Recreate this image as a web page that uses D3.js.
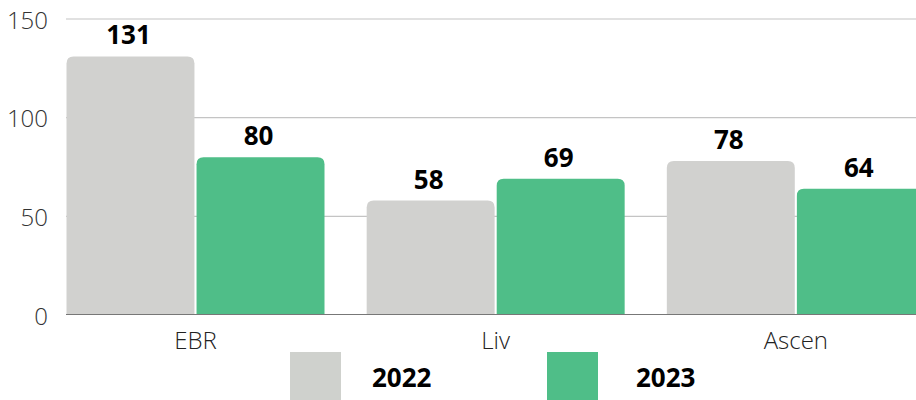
<!DOCTYPE html>
<meta charset="utf-8">
<script src="https://d3js.org/d3.v7.min.js"></script>
<style>
  body { margin: 0; background: #fff; }
  text { font-family: "Open Sans", sans-serif; }
</style>
<div id="my_dataviz"></div>
<script>

// data
var categories = ["EBR", "Liv", "Ascen"];
var years = ["2022", "2023"];
var values2022 = [131, 58, 78];
var values2023 = [80, 69, 64];
var yTicks = [0, 50, 100, 150];

var colors = { "2022": "#d1d1cf", "2023": "#4fbe88" };

var width = 916, height = 400;

var svg = d3.select("#my_dataviz")
  .append("svg")
  .attr("width", width)
  .attr("height", height);

var y = d3.scaleLinear().domain([0, 150]).range([315, 19]);

var x0 = d3.scaleBand().domain(categories).range([66.5, 967]);
var x1 = d3.scaleBand().domain(years).range([0, 258]).paddingInner(0.016);

// gridlines
svg.selectAll(".grid")
  .data(yTicks.filter(function(d) { return d > 0; }))
  .enter()
  .append("line")
  .attr("x1", 66)
  .attr("x2", width)
  .attr("y1", function(d) { return y(d); })
  .attr("y2", function(d) { return y(d); })
  .attr("stroke", "#c4c4c4")
  .attr("stroke-width", 1.2);

// y tick labels
svg.selectAll(".ytick")
  .data(yTicks)
  .enter()
  .append("text")
  .attr("x", 48)
  .attr("y", function(d) { return y(d) + 9.5; })
  .attr("text-anchor", "end")
  .attr("font-size", 24)
  .attr("font-weight", 300)
  .attr("fill", "#333")
  .text(function(d) { return d; });

var rows = [];
categories.forEach(function(c, i) {
  rows.push({ cat: c, year: "2022", value: values2022[i] });
  rows.push({ cat: c, year: "2023", value: values2023[i] });
});

function topRounded(x, yTop, w, yBase, r) {
  r = Math.min(r, (yBase - yTop));
  return "M" + x + "," + yBase +
    "V" + (yTop + r) +
    "Q" + x + "," + yTop + " " + (x + r) + "," + yTop +
    "H" + (x + w - r) +
    "Q" + (x + w) + "," + yTop + " " + (x + w) + "," + (yTop + r) +
    "V" + yBase + "Z";
}

// bars
svg.selectAll(".bar")
  .data(rows)
  .enter()
  .append("path")
  .attr("d", function(d) {
    return topRounded(x0(d.cat) + x1(d.year), y(d.value), x1.bandwidth(), y(0), 7);
  })
  .attr("fill", function(d) { return colors[d.year]; });

// baseline axis
svg.append("line")
  .attr("x1", 66)
  .attr("x2", width)
  .attr("y1", y(0) - 0.5)
  .attr("y2", y(0) - 0.5)
  .attr("stroke", "#777")
  .attr("stroke-width", 1);

// value labels
svg.selectAll(".val")
  .data(rows)
  .enter()
  .append("text")
  .attr("x", function(d) { return x0(d.cat) + x1(d.year) + x1.bandwidth() / 2 - 2; })
  .attr("y", function(d) { return y(d.value) - 12; })
  .attr("text-anchor", "middle")
  .attr("font-size", 26)
  .attr("font-weight", 700)
  .attr("fill", "#000")
  .text(function(d) { return d.value; });

// category labels
svg.selectAll(".cat")
  .data(categories)
  .enter()
  .append("text")
  .attr("x", function(d) { return x0(d) + 129; })
  .attr("y", 349)
  .attr("text-anchor", "middle")
  .attr("font-size", 24)
  .attr("font-weight", 300)
  .attr("fill", "#222")
  .text(function(d) { return d; });

// legend
var legendX = [290, 547];
var legendTextX = [372, 636];
var legend = svg.selectAll(".legend")
  .data(years)
  .enter()
  .append("g");

legend.append("rect")
  .attr("x", function(d, i) { return legendX[i]; })
  .attr("y", 352)
  .attr("width", 51)
  .attr("height", 50)
  .attr("fill", function(d) { return d === "2022" ? "#cfd1cd" : colors[d]; });

legend.append("text")
  .attr("x", function(d, i) { return legendTextX[i]; })
  .attr("y", 387)
  .attr("font-size", 26)
  .attr("font-weight", 700)
  .attr("fill", "#000")
  .text(function(d) { return d; });

</script>
